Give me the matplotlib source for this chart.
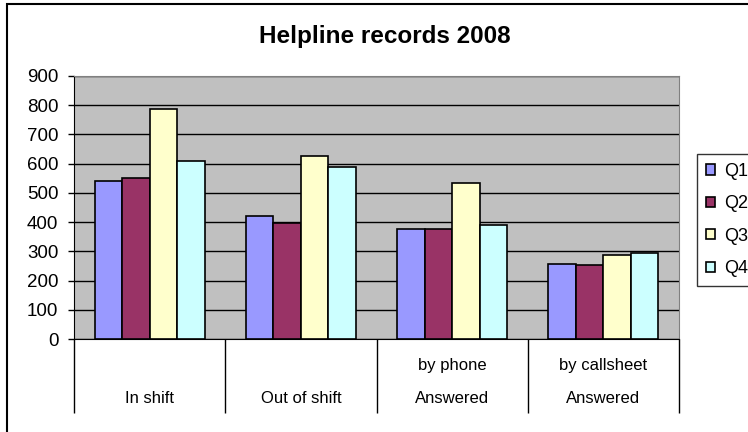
import numpy as np
import matplotlib.pyplot as plt
from matplotlib.patches import Rectangle

plt.rcParams['font.family'] = ['Liberation Sans', 'DejaVu Sans']

# Helpline data per quarter
top_labels = ['', '', 'by phone', 'by callsheet']
bottom_labels = ['In shift', 'Out of shift', 'Answered', 'Answered']
quarters = ['Q1', 'Q2', 'Q3', 'Q4']
q1 = [541, 422, 375, 257]
q2 = [552, 397, 375, 252]
q3 = [787, 627, 535, 289]
q4 = [610, 589, 391, 294]
colors = ['#9999FF', '#993366', '#FFFFCC', '#CCFFFF']

fig = plt.figure(figsize=(7.48, 4.32), dpi=100)
ax = fig.add_axes([74 / 748, 1 - 339 / 432, 605 / 748, 263 / 432])
ax.set_facecolor('#C0C0C0')

x = np.arange(len(bottom_labels))
width = 1 / 5.5
for i, (vals, name) in enumerate(zip([q1, q2, q3, q4], quarters)):
    ax.bar(x + (i - 1.5) * width, vals, width, color=colors[i],
           edgecolor='black', linewidth=1.2, label=name, zorder=3)

ax.set_xlim(-0.5, len(bottom_labels) - 0.5)
ax.set_ylim(0, 900)
ax.set_yticks(range(0, 901, 100))
ax.yaxis.grid(True, color='black', linewidth=1)
ax.set_axisbelow(True)
ax.tick_params(axis='y', length=4.3, width=1, pad=7, labelsize=13.5)

# category dividers drawn as long ticks below the axis
ax.set_xticks(np.arange(-0.5, len(bottom_labels)))
ax.set_xticklabels([])
ax.tick_params(axis='x', length=53, width=1, color='black')

trans = ax.get_xaxis_transform()
for xi, t, b in zip(x, top_labels, bottom_labels):
    ax.text(xi, -0.099, t, transform=trans, ha='center', va='center', fontsize=12)
    ax.text(xi, -0.228, b, transform=trans, ha='center', va='center', fontsize=12)

for side in ['top', 'right']:
    ax.spines[side].set_color('#808080')
for side in ['left', 'bottom']:
    ax.spines[side].set_color('black')

fig.text(385 / 748, 1 - 36 / 432, 'Helpline records 2008', ha='center', va='center',
         fontsize=17.5, fontweight='bold')

fig.legend(loc='upper left', bbox_to_anchor=(697 / 748, 1 - 154 / 432),
           fontsize=13, frameon=True, fancybox=False, edgecolor='black',
           handlelength=0.5, handleheight=0.5, handletextpad=0.5,
           labelspacing=0.85, borderpad=0.5, borderaxespad=0)

fig.patches.append(Rectangle((7 / 748, -0.1), 1.2, 1 - 4 / 432 + 0.1, fill=False,
                             edgecolor='black', linewidth=1.5,
                             transform=fig.transFigure))

fig.savefig('out.png', dpi=100)
